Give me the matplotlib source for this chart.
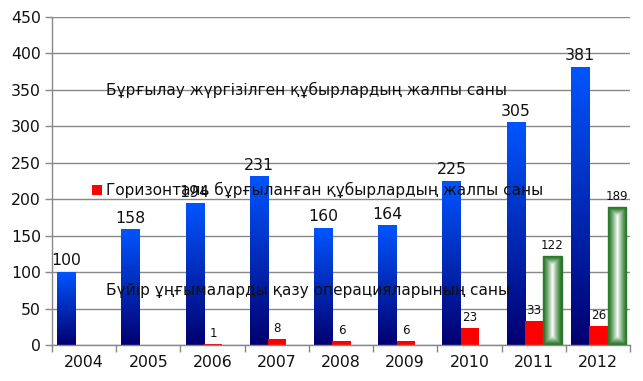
import numpy as np
import matplotlib
matplotlib.use("Agg")
import matplotlib.pyplot as plt
from matplotlib.patches import Rectangle

years = ["2004", "2005", "2006", "2007", "2008", "2009", "2010", "2011", "2012"]
total_wells = [100, 158, 194, 231, 160, 164, 225, 305, 381]
horizontal_wells = [None, None, 1, 8, 6, 6, 23, 33, 26]
sidetrack_ops = [None, None, None, None, None, None, None, 122, 189]
legend_labels = [
    "Бұрғылау жүргізілген құбырлардың жалпы саны",
    "Горизонталь бұрғыланған құбырлардың жалпы саны",
    "Бүйір ұңғымаларды қазу операцияларының саны",
]
y_ticks = [0, 50, 100, 150, 200, 250, 300, 350, 400, 450]

plt.rcParams['font.family'] = ['DejaVu Sans']
W, H = 643, 381
fig = plt.figure(figsize=(W / 100, H / 100), dpi=100)
ax = fig.add_axes([52 / W, 1 - 345 / H, (630 - 52) / W, (345 - 17) / H])
ax.set_xlim(-0.5, len(years) - 0.5)
ax.set_ylim(0, 450)

bw = 0.285
off = 0.08
px_per_unit_y = (345 - 17) / 450.0
px_per_unit_x = (630 - 52) / len(years)

top_blue = np.array([0, 85, 255]) / 255.0
bot_blue = np.array([0, 0, 112]) / 255.0
edge_green = np.array([32, 115, 32]) / 255.0
white = np.array([1.0, 1.0, 1.0])

for i, v in enumerate(total_wells):
    left = i - 0.5 + off
    n = 200
    t = np.linspace(0, 1, n)[:, None]  # 0 at top
    arr = top_blue[None, :] * (1 - t) + bot_blue[None, :] * t
    arr = arr[:, None, :]
    ax.imshow(arr, extent=[left, left + bw, 0, v], aspect='auto',
              interpolation='bilinear', zorder=2, origin='upper')
    ax.annotate(str(v), (left + bw / 2, v), xytext=(0, 5), textcoords='offset points',
                ha='center', va='baseline', fontsize=11.3, color='#111111', zorder=3)

for i, v in enumerate(horizontal_wells):
    if v is None:
        continue
    left = i - 0.5 + off + bw
    ax.bar(left, v, width=bw, align='edge', color='#ff0000', zorder=2)
    ax.annotate(str(v), (left + bw / 2, v), xytext=(0, 5), textcoords='offset points',
                ha='center', va='baseline', fontsize=8.6, color='#111111', zorder=3)

for i, v in enumerate(sidetrack_ops):
    if v is None:
        continue
    left = i - 0.5 + off + 2 * bw
    wpx = int(round(bw * px_per_unit_x)) * 4
    hpx = int(round(v * px_per_unit_y)) * 4
    xx = np.arange(wpx) + 0.5
    yy = np.arange(hpx) + 0.5
    dx = np.minimum(xx, wpx - xx)[None, :]
    dy = np.minimum(yy, hpx - yy)[:, None]
    d = np.minimum(dx, dy) / (wpx / 2.0)
    d = np.clip(d, 0, 1) ** 1.3
    arr = edge_green[None, None, :] * (1 - d[..., None]) + white[None, None, :] * d[..., None]
    ax.imshow(arr, extent=[left, left + bw, 0, v], aspect='auto',
              interpolation='bilinear', zorder=2, origin='upper')
    ax.add_patch(Rectangle((left, 0), bw, v, fill=False, edgecolor='#2a7a2a', lw=1.0, zorder=2.1))
    ax.annotate(str(v), (left + bw / 2, v), xytext=(0, 5), textcoords='offset points',
                ha='center', va='baseline', fontsize=8.6, color='#111111', zorder=3)

ax.set_xlim(-0.5, len(years) - 0.5)
ax.set_ylim(0, 450)
ax.set_yticks(y_ticks)
ax.set_yticklabels([str(t) for t in y_ticks])
ax.set_xticks(range(len(years)))
ax.set_xticklabels(years)
ax.set_xticks(np.arange(-0.5, len(years) + 0.5, 1), minor=True)
ax.tick_params(axis='x', which='major', length=0, pad=7, labelsize=11.3, labelcolor='#111111')
ax.tick_params(axis='x', which='minor', length=5, color='#888888', width=1)
ax.tick_params(axis='y', length=5, color='#888888', width=1, pad=3, labelsize=11.3, labelcolor='#111111')
ax.yaxis.grid(True, color='#888888', lw=1.0, zorder=1)
ax.set_axisbelow(True)
for s in ['top', 'right']:
    ax.spines[s].set_visible(False)
for s in ['left', 'bottom']:
    ax.spines[s].set_color('#888888')
    ax.spines[s].set_linewidth(1.0)

# legend (overlaid as in the reference)
fs_leg = 11.1
fig.text(106 / W, 1 - 90 / H, legend_labels[0], fontsize=fs_leg, va='center', ha='left', color='#111111')
fig.patches.append(Rectangle((92 / W, 1 - 195 / H), 10 / W, 10 / H, transform=fig.transFigure,
                             facecolor='#ff0000', edgecolor='none'))
fig.text(106 / W, 1 - 190 / H, legend_labels[1], fontsize=fs_leg, va='center', ha='left', color='#111111')
fig.text(106 / W, 1 - 290 / H, legend_labels[2], fontsize=fs_leg, va='center', ha='left', color='#111111')

fig.savefig("out.png", dpi=100)
